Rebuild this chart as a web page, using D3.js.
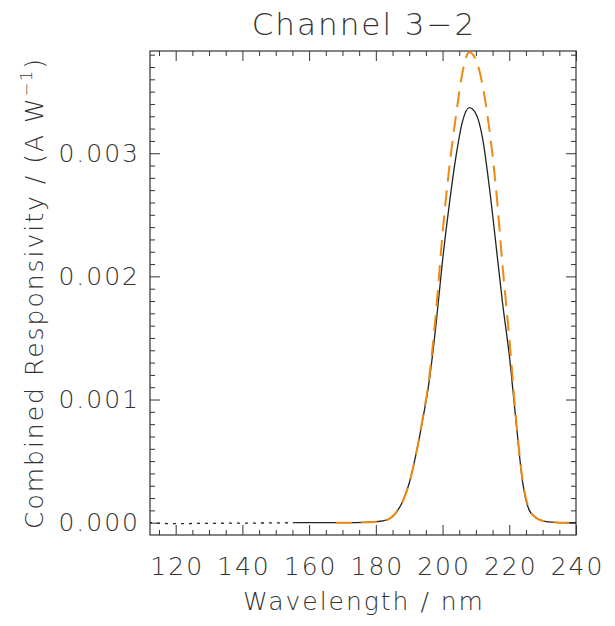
<!DOCTYPE html>
<html>
<head>
<meta charset="utf-8">
<script src="https://cdn.jsdelivr.net/npm/d3@7"></script>
<style>
  body { margin: 0; background: #fff; }
  svg text { font-family: "DejaVu Sans", sans-serif; font-weight: 200; fill: #333; letter-spacing: 2px; }
</style>
</head>
<body>
<div id="app"></div>
<script>
const w = 615;
const h = 626;

// dotted extension of the measured curve (short wavelengths)
const dottedWave = [112, 116, 120, 124, 128, 132, 136, 140, 144, 148, 152, 156];
const dottedVal = [0.000002, -0.000006, -0.000008, -0.000007, -0.000006, -0.000005, -0.000004, -0.000004, -0.000003, -0.000002, -0.000001, 0];

// solid black curve
const blackWave = [156, 160, 164, 168, 172, 176, 180, 182, 184, 186, 188, 190, 192, 194, 196, 198, 200, 202, 204, 206, 208, 210, 212, 214, 216, 218, 220, 222, 224, 226, 228, 230, 232, 234, 236, 240];
const blackVal = [0, 0, 0, 0, 0, 0.000002, 0.000008, 0.000015, 0.00003, 0.00008, 0.00017, 0.00032, 0.00055, 0.00083, 0.00115, 0.0016, 0.00213, 0.00258, 0.00297, 0.00326, 0.00337, 0.00332, 0.00312, 0.00273, 0.00226, 0.00178, 0.00136, 0.00083, 0.00033, 0.0001, 0.00004, 0.000015, 0.000006, 0.000002, 0, 0];

// orange dashed curve
const orangeWave = [168, 172, 176, 180, 182, 184, 186, 188, 190, 192, 194, 196, 198, 200, 202, 204, 206, 208, 210, 212, 214, 216, 218, 220, 222, 224, 226, 228, 230, 232, 234, 236, 240];
const orangeVal = [0, 0, 0.000002, 0.000008, 0.000015, 0.00003, 0.00008, 0.00017, 0.00032, 0.00055, 0.00084, 0.00118, 0.0017, 0.00235, 0.00288, 0.0033, 0.00366, 0.00382, 0.00376, 0.00355, 0.0032, 0.00272, 0.00208, 0.0015, 0.00085, 0.00034, 0.00011, 0.00004, 0.000015, 0.000006, 0.000002, 0, 0];

const xMajor = [120, 140, 160, 180, 200, 220, 240];
const yMajor = [0, 0.001, 0.002, 0.003];

const plotL = 150, plotR = 576, plotT = 51, plotB = 535;

const svg = d3.select('#app')
  .append('svg')
  .attr('width', w)
  .attr('height', h);

const x = d3.scaleLinear().domain([112.3, 240]).range([plotL, plotR]);
const y = d3.scaleLinear().domain([-0.0001, 0.00383]).range([plotB, plotT]);

const xMinor = d3.range(115, 241, 5).filter(v => !xMajor.includes(v));
const yMinor = d3.range(1, 39).map(v => v / 10000).filter(v => Math.round(v * 10000) % 10 !== 0);

//////////AXES//////////

function styleAxis(g) {
  g.select('.domain').remove();
  g.selectAll('line').attr('stroke', '#333');
  g.selectAll('text').attr('font-size', 25).attr('fill', '#333');
}

svg.append('g')
  .attr('transform', `translate(1,${plotB})`)
  .call(d3.axisBottom(x).tickValues(xMajor).tickSize(-10).tickPadding(22).tickFormat(d3.format('d')))
  .call(g => g.selectAll('.tick line').attr('transform', 'translate(-1,0)'))
  .call(styleAxis);
svg.append('g')
  .attr('transform', `translate(0,${plotB})`)
  .call(d3.axisBottom(x).tickValues(xMinor).tickSize(-5).tickFormat(''))
  .call(styleAxis);
svg.append('g')
  .attr('transform', `translate(0,${plotT})`)
  .call(d3.axisTop(x).tickValues(xMajor).tickSize(-10).tickFormat(''))
  .call(styleAxis);
svg.append('g')
  .attr('transform', `translate(0,${plotT})`)
  .call(d3.axisTop(x).tickValues(xMinor).tickSize(-5).tickFormat(''))
  .call(styleAxis);

svg.append('g')
  .attr('transform', `translate(${plotL},0)`)
  .call(d3.axisLeft(y).tickValues(yMajor).tickSize(-10).tickPadding(10).tickFormat(d3.format('.3f')))
  .call(styleAxis);
svg.append('g')
  .attr('transform', `translate(${plotL},0)`)
  .call(d3.axisLeft(y).tickValues(yMinor).tickSize(-5).tickFormat(''))
  .call(styleAxis);
svg.append('g')
  .attr('transform', `translate(${plotR},0)`)
  .call(d3.axisRight(y).tickValues(yMajor).tickSize(-10).tickFormat(''))
  .call(styleAxis);
svg.append('g')
  .attr('transform', `translate(${plotR},0)`)
  .call(d3.axisRight(y).tickValues(yMinor).tickSize(-5).tickFormat(''))
  .call(styleAxis);

svg.append('rect')
  .attr('x', plotL).attr('y', plotT)
  .attr('width', plotR - plotL).attr('height', plotB - plotT)
  .attr('fill', 'none').attr('stroke', '#333').attr('stroke-width', 1.2);

//////////CURVES//////////

svg.append('clipPath').attr('id', 'plot-clip')
  .append('rect')
  .attr('x', plotL).attr('y', plotT - 1)
  .attr('width', plotR - plotL).attr('height', plotB - plotT + 1);

const line = d3.line()
  .x(d => x(d[0]))
  .y(d => y(d[1]))
  .curve(d3.curveMonotoneX);

const curves = svg.append('g').attr('clip-path', 'url(#plot-clip)');

curves.append('path')
  .datum(dottedWave.map((d, i) => [d, dottedVal[i]]))
  .attr('d', line)
  .attr('fill', 'none')
  .attr('stroke', '#222')
  .attr('stroke-width', 1.3)
  .attr('stroke-dasharray', '3,5');

curves.append('path')
  .datum(blackWave.map((d, i) => [d, blackVal[i]]))
  .attr('d', line)
  .attr('fill', 'none')
  .attr('stroke', '#222')
  .attr('stroke-width', 1.3);

curves.append('path')
  .datum(orangeWave.map((d, i) => [d, orangeVal[i]]))
  .attr('d', line)
  .attr('fill', 'none')
  .attr('stroke', '#ec8a12')
  .attr('stroke-width', 2)
  .attr('stroke-dasharray', '16,9');

//////////LABELS//////////

svg.append('text')
  .attr('x', (plotL + plotR) / 2 + 1)
  .attr('y', 35)
  .attr('text-anchor', 'middle')
  .attr('font-size', 31)
  .text('Channel 3\u22122');

svg.append('text')
  .attr('x', (plotL + plotR) / 2 + 1)
  .attr('y', 610)
  .attr('text-anchor', 'middle')
  .attr('font-size', 25)
  .text('Wavelength / nm');

const ylab = svg.append('text')
  .attr('transform', `translate(43,${(plotT + plotB) / 2}) rotate(-90)`)
  .attr('text-anchor', 'middle')
  .attr('font-size', 25);
ylab.append('tspan').text('Combined Responsivity / (A W');
ylab.append('tspan').attr('font-size', 16).attr('dy', -11).text('\u22121');
ylab.append('tspan').attr('dy', 11).text(')');
</script>
</body>
</html>
